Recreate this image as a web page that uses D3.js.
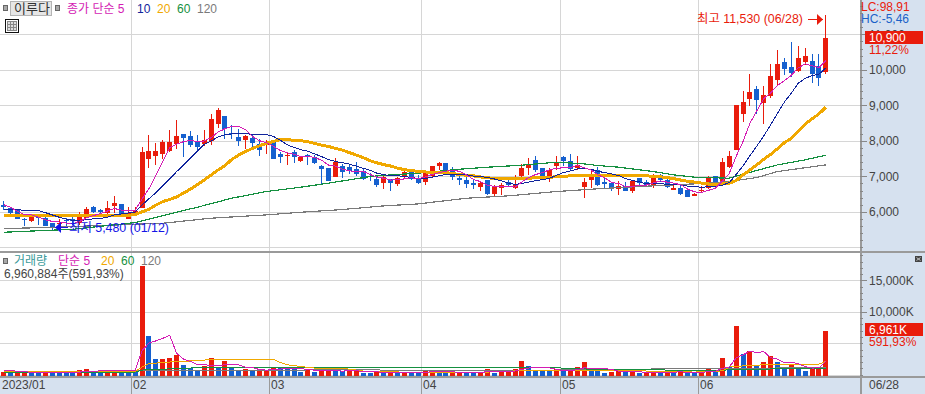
<!DOCTYPE html>
<html lang="ko">
<head>
<meta charset="utf-8">
<script src="https://cdn.jsdelivr.net/npm/d3@7"></script>
<style>
html,body{margin:0;padding:0;background:#fff;overflow:hidden}
svg{display:block}
text{font-family:"Liberation Sans","Noto Sans CJK KR",sans-serif;font-size:12px}
.lab{font-size:12px}
</style>
</head>
<body>
<svg id="c" width="925" height="394"></svg>
<script>
const opens=[6197,6113,6056,5803,5737,5850,5821,5681,5662,5760,
5794,5681,5840,6141,6056,5981,6178,6225,5812,5934,
6113,7493,7577,7634,7718,7915,8197,8141,8000,7915,
8000,8479,8704,8216,8113,8028,8085,7915,7878,8000,
7634,7577,7690,7437,7606,7540,7296,7239,6986,7296,
7268,7211,7155,7014,6930,6817,6930,6789,6986,7211,
6958,6845,7014,7296,7380,7211,6958,6901,6817,6704,
6901,6507,6676,6845,6676,7014,7239,7465,7239,7014,
7296,7549,7437,7239,6704,6901,7183,6845,6817,6648,
6732,6591,6957,6845,6760,7042,6901,6619,6676,6619,
6450,6591,6676,7014,6845,7267,7746,8760,9183,9465,
9070,9267,9718,10225,10084,9972,10225,10253,10113,9944];
const closes=[6141,5981,5803,5775,5887,5821,5606,5568,5700,5730,
5756,5906,6085,6009,6009,6113,6254,5869,5962,6028,
7690,7718,7718,7972,7972,8141,8085,7887,7831,8028,
8620,8873,8338,8188,8000,8141,7944,7746,7915,7493,
7549,7606,7549,7549,7577,7380,7211,6873,7408,7127,
7164,7070,6930,6986,6761,6986,6817,6958,7127,6930,
6817,7099,7296,7380,7127,6986,6901,6789,6761,6817,
6507,6704,6761,6761,6761,7239,7324,7183,7014,7183,
7408,7437,7211,7324,6845,7070,6761,6788,6648,6732,
6591,6873,6817,6760,7014,6901,6704,6676,6507,6422,
6507,6619,6976,6817,7408,7577,9014,9098,9380,9155,
9296,9831,10169,10028,9915,10338,10394,9887,9774,10900];
const highs=[6310,6131,6094,5840,5934,5906,5869,5681,5793,5820,
5850,5991,6131,6178,6085,6310,6451,6225,6131,6131,
7840,8169,7944,8028,8310,8592,8197,8282,8169,8310,
8761,8930,8704,8451,8338,8178,8169,8056,8028,8000,
7690,7653,7746,7577,7634,7606,7324,7239,7521,7352,
7352,7408,7239,7089,6995,7014,6930,6986,7211,7211,
7042,7183,7296,7408,7380,7268,7014,7014,6901,6873,
6901,6761,6817,6986,7042,7352,7521,7577,7239,7239,
7577,7577,7634,7577,6949,7183,7268,6957,6845,6873,
6845,6901,6957,6901,7070,7070,6957,6817,6760,6619,
6544,6732,7014,7014,7521,7718,9014,9408,9887,9549,
9549,10169,10563,10338,10789,10676,10620,10451,10451,11530];
const lows=[6056,5887,5803,5606,5728,5634,5606,5500,5480,5600,
5634,5634,5821,5981,5925,5944,5962,5869,5794,5915,
6113,7239,7324,7493,7690,7775,7549,7831,7718,7859,
7887,8366,8056,8056,7859,7775,7775,7577,7634,7493,
7380,7324,7380,7408,7324,7352,6761,6873,6986,6958,
7070,7014,6901,6873,6704,6648,6592,6732,6958,6901,
6789,6761,6986,7183,7127,6901,6761,6676,6648,6592,
6479,6451,6479,6732,6648,6901,7042,7127,6958,6845,
7183,7296,7183,7183,6394,6676,6732,6676,6591,6478,
6591,6535,6732,6704,6676,6845,6676,6619,6478,6422,
6450,6535,6648,6676,6845,7239,7746,8535,8986,8760,
8479,9211,9549,9859,9803,9944,10141,9634,9549,9887];
const ma5=[6200,6130,6010,5920,5917,5853,5778,5731,5716,5685,
5672,5732,5835,5897,5953,6024,6094,6051,6041,6045,
6361,6653,7023,7425,7814,7904,7978,8011,7983,7994,
8090,8248,8338,8409,8404,8308,8122,8004,7949,7848,
7729,7662,7622,7549,7566,7532,7453,7318,7290,7200,
7157,7128,7140,7055,6982,6947,6896,6902,6930,6964,
6930,6986,7054,7104,7144,7178,7138,7037,6913,6851,
6755,6716,6710,6710,6699,6845,6969,7054,7104,7189,
7222,7245,7251,7313,7245,7177,7042,6958,6822,6800,
6704,6726,6732,6755,6811,6873,6839,6811,6760,6642,
6563,6546,6606,6668,6865,7079,7558,7983,8495,8845,
9189,9352,9566,9696,9848,10056,10169,10112,10062,10259];
const ma10=[6060,6060,6056,6050,6045,6037,5980,5915,5850,5801,
5762,5755,5783,5806,5819,5848,5913,5943,5969,5999,
6192,6373,6537,6733,6930,7132,7315,7517,7704,7904,
7997,8113,8174,8196,8199,8199,8185,8171,8179,8126,
8018,7892,7813,7749,7707,7630,7557,7470,7420,7383,
7344,7290,7229,7172,7091,7052,7012,7021,6992,6973,
6938,6941,6978,7017,7054,7054,7062,7045,7008,6998,
6966,6927,6873,6811,6775,6800,6842,6882,6907,6944,
7033,7107,7152,7208,7217,7199,7143,7104,7067,7022,
6940,6884,6845,6788,6805,6788,6782,6771,6757,6726,
6718,6692,6708,6714,6753,6821,7052,7294,7581,7855,
8134,8455,8774,9095,9346,9622,9760,9839,9879,10053];
const ma20=[5897,5897,5900,5900,5900,5900,5900,5900,5900,5900,
5900,5900,5900,5900,5900,5900,5900,5900,5905,5925,
6000,6075,6190,6290,6350,6420,6530,6640,6770,6900,
7040,7180,7300,7480,7600,7700,7790,7860,7930,7980,
8037,8030,8020,8005,7975,7930,7878,7840,7790,7740,
7670,7600,7530,7440,7380,7330,7290,7230,7190,7160,
7140,7125,7110,7110,7108,7080,7052,7030,7014,6985,
6958,6948,6940,6940,6940,6940,6950,6958,6968,6978,
6986,7000,7014,7014,7014,7014,7014,7014,7014,7014,
7014,7020,7020,7014,7005,6990,6965,6935,6895,6860,
6840,6810,6785,6780,6790,6810,6880,7042,7180,7323,
7480,7620,7780,7950,8075,8280,8469,8620,8760,8950];
const ma60Days=[0,10,19,24,28,33,38,43,46,50,53,56,60,66,70,75,80,84,86,89,94,97,100,105,107,112,116,119];
const ma60=[5427,5510,5700,5944,6131,6385,6573,6695,6780,6900,6995,7042,7089,7202,7258,7315,7399,7352,7305,7258,7136,7042,6977,6948,7061,7324,7465,7596];
const ma120Days=[0,7,23,30,38,43,49,55,60,67,73,80,86,92,100,105,109,112,119];
const ma120=[5530,5565,5680,5822,5915,5990,6066,6169,6225,6385,6451,6573,6650,6714,6789,6855,6967,7136,7324];

const volumes=[360,300,330,350,310,280,340,300,280,260,
240,750,950,500,400,420,430,800,450,400,
17300,6190,2540,2540,2700,3120,1590,1060,690,1430,
2700,1060,2220,1220,635,900,635,690,740,1220,
1200,900,900,480,800,476,530,800,530,530,
740,530,265,320,420,370,370,320,370,320,
320,635,635,320,320,320,370,370,320,420,
950,320,420,420,850,2220,1430,635,580,580,
950,580,600,1270,2060,635,635,320,480,740,
370,420,200,300,530,320,480,420,480,265,
265,480,850,800,2700,1220,7780,3280,3810,1430,
2060,3015,2060,950,1690,1060,635,900,1220,6961];
const volRed=[1,0,1,1,0,0,1,0,0,0,
0,1,1,0,0,1,1,0,0,0,
1,0,0,1,1,1,0,0,0,1,
1,0,1,0,0,1,0,1,1,1,
0,0,0,0,1,0,1,1,0,0,
1,1,0,0,1,0,1,0,1,0,
0,1,1,0,0,1,1,0,0,1,
1,0,1,1,1,1,0,0,0,0,
1,0,1,1,1,0,0,0,1,1,
0,1,0,1,1,0,1,0,1,0,
0,1,1,0,1,0,1,0,1,0,
1,1,0,0,1,0,0,1,1,1];
const volMa5=[740,740,500,450,400,370,350,330,320,310,
320,420,500,560,600,640,720,740,740,700,
3816,5028,5376,5794,6254,3418,2498,2102,1632,1578,
1494,1388,1608,1630,1567,1207,1122,816,724,837,
897,950,1000,950,856,711,637,617,627,574,
626,626,519,477,455,381,349,360,370,350,
344,393,456,446,446,446,393,340,340,350,
486,476,486,506,592,846,1068,1111,1143,1089,
835,665,658,796,1092,1029,1040,984,826,562,
509,466,442,406,364,354,366,410,446,393,
382,382,468,532,1019,1210,2670,3156,3758,3504,
3672,2719,2475,1903,1955,1755,1279,1047,1101,2155];
const volMa20Days=[0,19,20,21,22,24,28,31,39,40,41,43,45,50,53,70,74,80,90,94,100,104,105,108,113,118,119];
const volMa20=[470,520,1200,1750,1850,2020,2250,2490,2490,1950,1590,1300,1060,900,430,420,600,700,700,550,420,600,1220,1480,1690,1690,2116];
const volMa60Days=[0,19,20,28,45,79,82,90,103,106,113,119];
const volMa60=[380,420,740,1110,1216,1216,950,790,690,800,950,1000];
const volMa120Days=[0,19,20,45,80,90,105,119];
const volMa120=[440,480,700,750,740,900,920,1220];

const priceTicks=[6000,7000,8000,9000,10000,11000];
const volTicks=[10000,15000];
const volGrid=[0,5000,10000,15000];
const monthStarts=[19,39,61,81,101];
const monthLabels=["02","03","04","05","06"];
const firstMonthLabel="2023/01", lastDateLabel="06/28";

const RED="#e91c0c",BLUE="#1560cf",MAG="#d41cb4",NAVY="#10249c",ORG="#f0a800",GRN="#159040",GRY="#7a7a7a",TXT="#444";
const svg=d3.select("#c");
const plotR=860,bottom=376;
const x=d3.scaleLinear().domain([0,119]).range([3.4,825.4]);
const yP=d3.scaleLinear().domain([5000,11000]).range([247.4,34.3]);
const yV=d3.scaleLinear().domain([0,15000]).range([374.7,280.4]);
const X=i=>Math.round(x(i));

// panels
svg.append("rect").attr("x",plotR).attr("y",0).attr("width",925-plotR).attr("height",394).attr("fill","#d6e1ef");
svg.append("rect").attr("x",0).attr("y",bottom).attr("width",925).attr("height",18).attr("fill","#d6e1ef");

const crisp=s=>s.attr("shape-rendering","crispEdges");
const grid=svg.append("g").attr("stroke","#d6d6d6").attr("stroke-width",1);
const hline=(g,y)=>crisp(g.append("line")).attr("x1",0).attr("x2",plotR).attr("y1",Math.round(y)+.5).attr("y2",Math.round(y)+.5);
[5000,...priceTicks].forEach(v=>hline(grid,yP(v)));
volGrid.forEach(v=>hline(grid,yV(v)));
monthStarts.forEach(i=>{const p=Math.round(x(i)-3.4)+.5;
 crisp(grid.append("line")).attr("x1",p).attr("x2",p).attr("y1",0).attr("y2",bottom);
 crisp(svg.append("line")).attr("x1",p).attr("x2",p).attr("y1",bottom).attr("y2",394).attr("stroke","#9a9a9a");
});

// candles
const idx=d3.range(opens.length);
const cg=svg.append("g");
const up=i=>closes[i]>=opens[i];
crisp(cg.selectAll(".w").data(idx).join("rect")).attr("x",i=>X(i)).attr("width",1)
 .attr("y",i=>Math.round(yP(highs[i]))).attr("height",i=>Math.max(1,Math.round(yP(lows[i]))-Math.round(yP(highs[i]))))
 .attr("fill",i=>up(i)?RED:BLUE);
crisp(cg.selectAll(".b").data(idx).join("rect")).attr("x",i=>X(i)-2).attr("width",5)
 .attr("y",i=>Math.round(yP(Math.max(opens[i],closes[i]))))
 .attr("height",i=>Math.max(1,Math.round(yP(Math.min(opens[i],closes[i])))-Math.round(yP(Math.max(opens[i],closes[i])))))
 .attr("fill",i=>up(i)?RED:BLUE);

// price averages
const drawLine=(days,vals,scale,color,w)=>{
 const l=d3.line().x((d,k)=>x(days?days[k]:k)+.5).y(d=>scale(d));
 svg.append("path").attr("d",l(vals)).attr("fill","none").attr("stroke",color).attr("stroke-width",w).attr("shape-rendering","crispEdges");
};
drawLine(ma120Days,ma120,yP,GRY,1.2);
drawLine(ma60Days,ma60,yP,GRN,1.2);
drawLine(null,ma20,yP,ORG,3);
drawLine(null,ma10,yP,NAVY,1);
drawLine(null,ma5,yP,MAG,1);

// volume bars
crisp(svg.append("g").selectAll("rect").data(idx).join("rect")).attr("x",i=>X(i)-2).attr("width",5)
 .attr("y",i=>Math.round(yV(volumes[i]))).attr("height",i=>Math.round(yV(0))+1-Math.round(yV(volumes[i])))
 .attr("fill",i=>volRed[i]?RED:BLUE);
drawLine(volMa120Days,volMa120,yV,GRY,1);
drawLine(volMa60Days,volMa60,yV,GRN,1);
drawLine(volMa20Days,volMa20,yV,ORG,1);
drawLine(null,volMa5,yV,MAG,1);

// frame lines
crisp(svg.append("line")).attr("x1",0).attr("x2",925).attr("y1",251.5).attr("y2",251.5).attr("stroke","#9a9a9a").attr("stroke-width",2);
crisp(svg.append("line")).attr("x1",0).attr("x2",925).attr("y1",376.5).attr("y2",376.5).attr("stroke","#9a9a9a").attr("stroke-width",2);
crisp(svg.append("line")).attr("x1",860.5).attr("x2",860.5).attr("y1",0).attr("y2",394).attr("stroke","#9a9a9a").attr("stroke-width",2);

// axes
const fmt=d3.format(",");
const styleAxis=g=>{g.select(".domain").remove();g.selectAll("line").attr("stroke","#888").attr("shape-rendering","crispEdges");
 g.selectAll("text").attr("fill",TXT).attr("x",9).attr("font-size",12);};
svg.append("g").attr("transform",`translate(${plotR},0)`)
 .call(d3.axisRight(yP).tickValues(d3.range(5000,12000,200)).tickSize(3).tickFormat("")).call(styleAxis);
svg.append("g").attr("transform",`translate(${plotR},0)`)
 .call(d3.axisRight(yP).tickValues(priceTicks).tickSize(7).tickFormat(fmt)).call(styleAxis);
svg.append("g").attr("transform",`translate(${plotR},0)`)
 .call(d3.axisRight(yV).tickValues(d3.range(0,20000,1000)).tickSize(3).tickFormat("")).call(styleAxis);
svg.append("g").attr("transform",`translate(${plotR},0)`)
 .call(d3.axisRight(yV).tickValues(volTicks).tickSize(7).tickFormat(d=>fmt(d)+"K")).call(styleAxis);

const T=(t,px,py,fill,opt={})=>{const e=svg.append("text").attr("x",px).attr("y",py).attr("fill",fill).text(t);
 if(opt.size)e.style("font-size",opt.size+"px");return e;};

// x labels
T(firstMonthLabel,2,389,TXT);
monthStarts.forEach((i,k)=>T(monthLabels[k],Math.round(x(i)-3.4)+2,389,TXT));
T(lastDateLabel,869,389,TXT);

// price tags
crisp(svg.append("rect")).attr("x",865).attr("y",31).attr("width",58).attr("height",13).attr("fill",RED);
T("10,900",869,42,"#fff");
T("11,22%",869,54,RED);
T("LC:98,91",861,11,RED);
T("HC:-5,46",861,23,"#1a62c8");
crisp(svg.append("rect")).attr("x",865).attr("y",323).attr("width",58).attr("height",13).attr("fill",RED);
T("6,961K",869,334,"#fff");
T("591,93%",869,346,RED);

// annotations
T("최고 11,530 (06/28)",697,23,RED,{size:12.4});
const arrow=(x1,x2,y,c)=>{
 crisp(svg.append("line")).attr("x1",x1).attr("x2",x2).attr("y1",y+.5).attr("y2",y+.5).attr("stroke",c);
 const d=x2>x1?1:-1;
 svg.append("path").attr("d",`M${x2},${y+.5}L${x2-d*6},${y-5}L${x2-d*6},${y+6}Z`).attr("fill",c);
};
arrow(808,823,19,RED);
T("최저 5,480 (01/12)",69,232,"#1414e6",{size:12.4});
arrow(68,55,227,"#1414e6");

// header
const sq=(a,b,w,h)=>crisp(svg.append("rect")).attr("x",a).attr("y",b).attr("width",w).attr("height",h).attr("fill","#a8a8a8").attr("stroke","#666");
sq(3.5,5.5,4,5);
crisp(svg.append("rect")).attr("x",10.5).attr("y",1.5).attr("width",41).attr("height",14).attr("fill","#e6e6e6").attr("stroke","#b4b4b4");
T("이루다",14,13,"#333",{size:13});
sq(55.5,5.5,4,5);
T("종가 단순 5",67,13,MAG);
T("10",137,13,NAVY);
T("20",157,13,ORG);
T("60",177,13,GRN);
T("120",197,13,GRY);
// table icon
crisp(svg.append("rect")).attr("x",5.5).attr("y",19.5).attr("width",13).attr("height",13).attr("fill","#fff").attr("stroke","#111");
crisp(svg.append("rect")).attr("x",7.5).attr("y",21.5).attr("width",9).attr("height",9).attr("fill","#ddd").attr("stroke","#888");
[10.5,13.5].forEach(p=>crisp(svg.append("line")).attr("x1",p).attr("x2",p).attr("y1",21).attr("y2",31).attr("stroke","#888"));
[24.5,27.5].forEach(p=>crisp(svg.append("line")).attr("x1",7).attr("x2",17).attr("y1",p).attr("y2",p).attr("stroke","#888"));

// volume header
sq(3.5,258.5,4,5);
T("거래량",14,265,"#3a9a9a");
T("단순 5",58,265,MAG);
T("20",101,265,ORG);
T("60",121,265,GRN);
T("120",141,265,GRY);
T("6,960,884주(591,93%)",4,278,TXT);

// corner icon
crisp(svg.append("rect")).attr("x",915).attr("y",256).attr("width",7).attr("height",6).attr("fill","#444");
svg.append("path").attr("d","M916.5,257.5L920.5,260.5M920.5,257.5L916.5,260.5").attr("stroke","#ddd").attr("stroke-width",.8);
</script>
</body>
</html>
